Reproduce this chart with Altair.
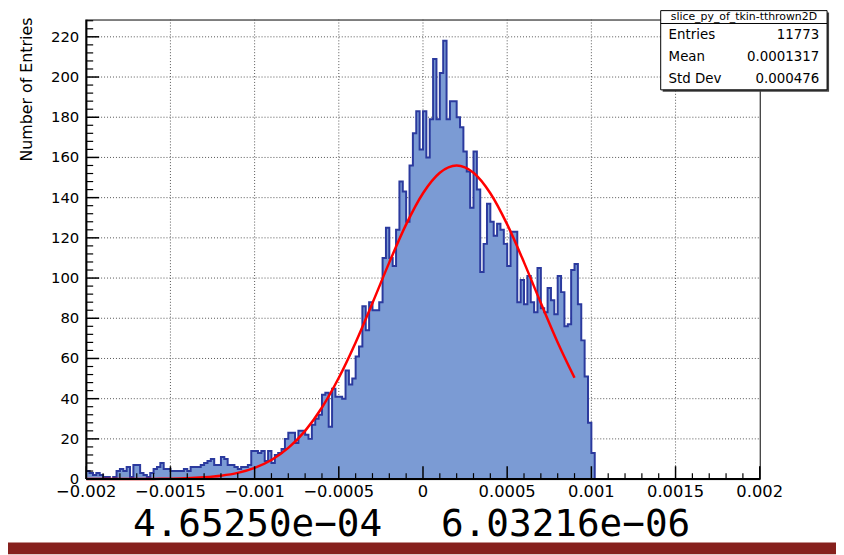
import altair as alt
import pandas as pd
import numpy as np

# ---------------- data ----------------
BIN_START = -0.002
BIN_WIDTH = 0.00002
N_BINS = 200

counts_tail = [4, 3, 2, 3, 2, 1, 1, 0, 1, 4, 5, 4, 6, 1, 7, 7, 3, 2, 1, 3,
               5, 6, 8, 5, 5, 4, 4, 4, 4, 5, 4, 6, 6, 6, 7, 8, 9, 10, 7, 7,
               11, 10, 7, 7, 6, 5, 6, 6, 7, 14]
counts_rise = [14, 13, 14, 9, 14, 8, 12, 13, 15, 20, 23, 23, 18, 24, 24, 22,
               20, 27, 30, 32, 42, 43]
counts_core = [26, 45, 41, 41, 40, 54, 47, 50, 61, 66, 86, 74, 88, 84, 84, 88,
               110, 125, 110, 106, 124, 148, 143, 128, 156, 172, 183, 164, 183, 160]
counts_fall = [179, 209, 179, 202, 218, 179, 188, 188, 180, 175, 163, 153, 135,
               163, 144, 103, 117, 137, 128, 121, 127, 124, 117, 106, 123, 123,
               88, 99, 87, 101, 88, 83, 105, 85, 83, 95, 89, 82, 101, 93, 76,
               77, 104, 107, 87, 69, 51, 28, 13]
counts_empty = [0] * 49   # bins from 0.00102 up to 0.002 are empty

counts = counts_tail + counts_rise + counts_core + counts_fall + counts_empty

# gaussian fit curve, read at steps of 0.0001
fit_x = [-0.0020, -0.0019, -0.0018, -0.0017, -0.0016, -0.0015, -0.0014, -0.0013,
         -0.0012, -0.0011, -0.0010, -0.0009, -0.0008, -0.0007, -0.0006, -0.0005,
         -0.0004, -0.0003, -0.0002, -0.0001, 0.0000, 0.0001, 0.0002, 0.0003,
         0.0004, 0.0005, 0.0006, 0.0007, 0.0008, 0.0009]
fit_y = [0, 0, 0, 0, 0.1, 0.2, 0.4, 0.9, 1.7, 3.1, 5.6, 9.5, 15.5, 24.0, 35.6,
         50.4, 68.0, 87.6, 107.8, 126.7, 142.2, 152.4, 156.0, 152.4, 142.2,
         126.7, 107.8, 87.6, 68.0, 50.4]

x_major = [-0.002, -0.0015, -0.001, -0.0005, 0, 0.0005, 0.001, 0.0015, 0.002]
x_labels = ["\u22120.002", "\u22120.0015", "\u22120.001", "\u22120.0005", "0",
            "0.0005", "0.001", "0.0015", "0.002"]
y_major = [0, 20, 40, 60, 80, 100, 120, 140, 160, 180, 200, 220]
y_labels = [str(v) for v in y_major]

stats_title = "slice_py_of_tkin-tthrown2D"
stats_labels = ["Entries", "Mean", "Std Dev"]
stats_values = ["11773", "0.0001317", "0.000476"]
fit_texts = ["4.65250e\u221204", "6.03216e\u221206"]

# ---------------- layout ----------------
W, H = 680, 464
X_DOMAIN = [-0.002, 0.002]
Y_DOMAIN = [0, 228.6]
FONT = "DejaVu Sans"
GRID_COLOR = "#555"

edges = [BIN_START + i * BIN_WIDTH for i in range(N_BINS + 1)]
hist_df = pd.DataFrame({"x": edges, "n": counts + [0]})
n_last = len(counts) - len(counts_empty)
outline_df = pd.DataFrame({"x": edges[:n_last + 1], "n": counts[:n_last] + [0]})
fit_df = pd.DataFrame({"x": fit_x, "y": fit_y})

x_minor = [float(v) for v in np.round(np.arange(-0.002, 0.00201, 0.0001), 6)
           if not any(abs(v - m) < 1e-9 for m in x_major)]
y_minor = [v for v in range(0, 229, 4) if v % 20 != 0]

xs = alt.Scale(domain=X_DOMAIN, nice=False, zero=False)
ys = alt.Scale(domain=Y_DOMAIN, nice=False, zero=False)


def X(field):
    return alt.X(field, type="quantitative", scale=xs, axis=None)


def Y(field):
    return alt.Y(field, type="quantitative", scale=ys, axis=None)


xdf = pd.DataFrame({"t": x_major, "lab": x_labels})
ydf = pd.DataFrame({"t": y_major, "lab": y_labels})

# grid (dotted, behind the histogram)
x_grid = alt.Chart(xdf[(xdf.t > -0.002) & (xdf.t < 0.002)]).mark_rule(
    color=GRID_COLOR, strokeWidth=1, strokeDash=[1, 2]).encode(
    x=X("t"), y=alt.value(0), y2=alt.value(H))
y_grid = alt.Chart(ydf[ydf.t > 0]).mark_rule(
    color=GRID_COLOR, strokeWidth=1, strokeDash=[1, 2]).encode(
    y=Y("t"), x=alt.value(0), x2=alt.value(W))

area = alt.Chart(hist_df).mark_area(
    interpolate="step-after", color="#7b9bd4", opacity=1
).encode(x=X("x"), y=Y("n"))

outline = alt.Chart(outline_df).mark_line(
    interpolate="step-after", color="#2b3a9e", strokeWidth=2
).encode(x=X("x"), y=Y("n"))

fit = alt.Chart(fit_df).mark_line(
    interpolate="monotone", color="#ff0000", strokeWidth=2.5
).encode(x=X("x"), y=Y("y"))

one = pd.DataFrame({"a": [0]})

left_line = alt.Chart(one).mark_rule(color="black", strokeWidth=2).encode(
    x=alt.value(0), y=alt.value(0), y2=alt.value(H))
bottom_line = alt.Chart(one).mark_rule(color="black", strokeWidth=2).encode(
    x=alt.value(0), x2=alt.value(W), y=alt.value(H))

xt_major = alt.Chart(xdf).mark_rule(color="black", strokeWidth=1.5).encode(
    x=X("t"), y=alt.value(H), y2=alt.value(H - 13))
xt_minor = alt.Chart(pd.DataFrame({"t": x_minor})).mark_rule(
    color="black", strokeWidth=1.2).encode(
    x=X("t"), y=alt.value(H), y2=alt.value(H - 6))
yt_major = alt.Chart(ydf).mark_rule(color="black", strokeWidth=1.5).encode(
    y=Y("t"), x=alt.value(0), x2=alt.value(13))
yt_minor = alt.Chart(pd.DataFrame({"t": y_minor})).mark_rule(
    color="black", strokeWidth=1.2).encode(
    y=Y("t"), x=alt.value(0), x2=alt.value(7))

x_lab = alt.Chart(xdf).mark_text(
    font=FONT, fontSize=16.5, color="black", align="center", baseline="top"
).encode(x=X("t"), y=alt.value(H + 5), text="lab:N")
y_lab = alt.Chart(ydf).mark_text(
    font=FONT, fontSize=15, color="black", align="right", baseline="middle"
).encode(y=Y("t"), x=alt.value(-7), text="lab:N")

# stats box (top right)
BX0, BX1, BY0, BY1 = 580, 748, -9, 71
ROW_Y = [16, 38, 60]
shadow = alt.Chart(one).mark_rect(color="#444").encode(
    x=alt.value(BX0 + 2), x2=alt.value(BX1 + 2),
    y=alt.value(BY0 + 2), y2=alt.value(BY1 + 2))
box = alt.Chart(one).mark_rect(fill="white", stroke="black", strokeWidth=1).encode(
    x=alt.value(BX0), x2=alt.value(BX1), y=alt.value(BY0), y2=alt.value(BY1))
divider = alt.Chart(one).mark_rule(color="black", strokeWidth=1).encode(
    x=alt.value(BX0), x2=alt.value(BX1), y=alt.value(4))
box_title = alt.Chart(one).mark_text(
    text=stats_title, font=FONT, fontSize=11, color="black",
    align="center", baseline="middle").encode(
    x=alt.value((BX0 + BX1) / 2), y=alt.value(-2.5))

stat_layers = []
for lab, val, ry in zip(stats_labels, stats_values, ROW_Y):
    stat_layers.append(alt.Chart(one).mark_text(
        text=lab, font=FONT, fontSize=13.5, color="black", align="left",
        baseline="middle").encode(x=alt.value(BX0 + 8), y=alt.value(ry)))
    stat_layers.append(alt.Chart(one).mark_text(
        text=val, font=FONT, fontSize=13.5, color="black", align="right",
        baseline="middle").encode(x=alt.value(BX1 - 8), y=alt.value(ry)))

y_title = alt.Chart(one).mark_text(
    text="Number of Entries", font=FONT, fontSize=16, color="black",
    angle=270, align="right", baseline="middle").encode(
    x=alt.value(-60), y=alt.value(-2))

big1 = alt.Chart(one).mark_text(
    text=fit_texts[0], font="DejaVu Sans Mono", fontSize=38, color="black",
    align="center", baseline="alphabetic").encode(
    x=alt.value(173), y=alt.value(521))
big2 = alt.Chart(one).mark_text(
    text=fit_texts[1], font="DejaVu Sans Mono", fontSize=38, color="black",
    align="center", baseline="alphabetic").encode(
    x=alt.value(484), y=alt.value(521))

red_bar = alt.Chart(one).mark_rect(color="#86201d").encode(
    x=alt.value(-79), x2=alt.value(757), y=alt.value(528), y2=alt.value(540))

chart = alt.layer(
    x_grid, y_grid, area, outline, fit, left_line, bottom_line,
    xt_major, xt_minor, yt_major, yt_minor, x_lab, y_lab,
    shadow, box, divider, box_title, *stat_layers,
    y_title, big1, big2, red_bar,
).properties(
    width=W, height=H,
    padding={"left": 79, "top": 9, "right": 77, "bottom": 74},
    autosize=alt.AutoSizeParams(type="none"),
).configure_view(stroke="black", strokeWidth=1)

chart.save("out.html", embed_options={"renderer": "svg", "actions": False})
